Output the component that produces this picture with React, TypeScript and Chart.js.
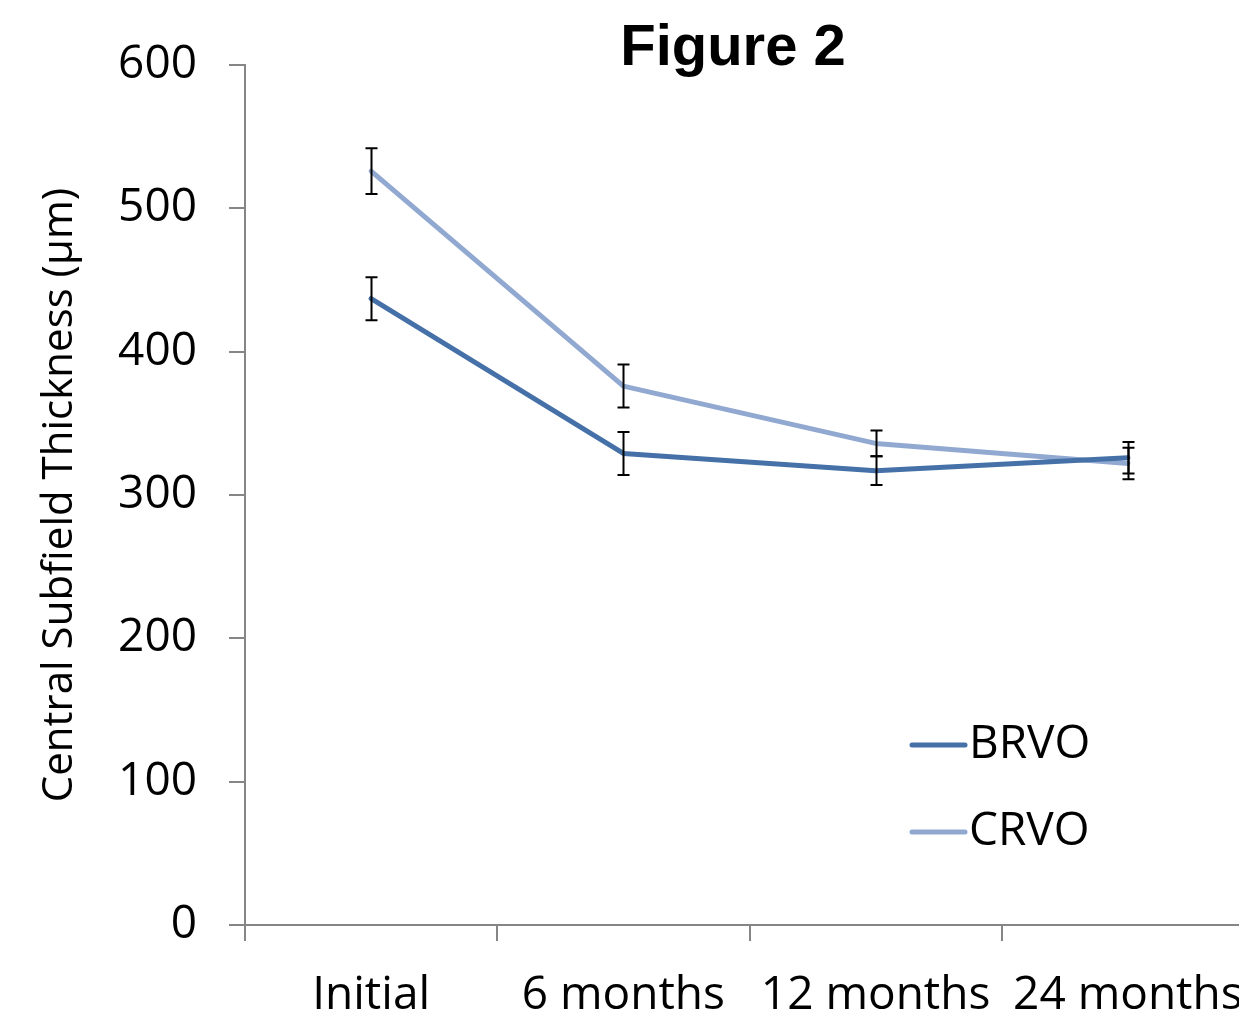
import React, { useEffect, useRef } from 'react';
import { Chart, registerables } from 'chart.js';

Chart.register(...registerables);

const chartTitle = 'Figure 2';
const categories = ['Initial', '6 months', '12 months', '24 months'];
const seriesNames = ['BRVO', 'CRVO'];
const brvoValues = [437, 329, 317, 326];
const brvoErrors = [15, 15, 10, 11];
const crvoValues = [526, 376, 336, 322];
const crvoErrors = [16, 15, 9, 11];
const yTicks = [0, 100, 200, 300, 400, 500, 600];
const seriesColors = ['#4571A8', '#91A9D0'];
const errorSets = [brvoErrors, crvoErrors];

const TICK_FONT = { family: "'Open Sans', sans-serif", size: 46 };
const AXIS_COLOR = '#868686';

const errorBarPlugin = {
  id: 'errorBars',
  afterDatasetsDraw(chart: any) {
    const { ctx, scales } = chart;
    const x = scales.x;
    const y = scales.y;
    ctx.save();
    ctx.strokeStyle = '#000000';
    ctx.lineWidth = 2;
    chart.data.datasets.forEach((ds: any, di: number) => {
      const errs = errorSets[di];
      ds.data.forEach((v: number, i: number) => {
        const px = Math.round(x.getPixelForValue(i)) + 0.5;
        const top = y.getPixelForValue(v + errs[i]);
        const bot = y.getPixelForValue(v - errs[i]);
        ctx.beginPath();
        ctx.moveTo(px, top);
        ctx.lineTo(px, bot);
        ctx.moveTo(px - 6, top);
        ctx.lineTo(px + 6, top);
        ctx.moveTo(px - 6, bot);
        ctx.lineTo(px + 6, bot);
        ctx.stroke();
      });
    });
    ctx.restore();
  },
};

const legendPlugin = {
  id: 'insideLegend',
  afterDraw(chart: any) {
    const { ctx } = chart;
    ctx.save();
    const x0 = 912;
    const x1 = 965;
    const ys = [745, 832];
    chart.data.datasets.forEach((ds: any, i: number) => {
      const yy = ys[i];
      ctx.strokeStyle = ds.borderColor;
      ctx.lineWidth = 5;
      ctx.lineCap = 'round';
      ctx.beginPath();
      ctx.moveTo(x0, yy);
      ctx.lineTo(x1, yy);
      ctx.stroke();
      ctx.fillStyle = '#000000';
      ctx.font = `${TICK_FONT.size}px ${TICK_FONT.family}`;
      ctx.textBaseline = 'middle';
      ctx.textAlign = 'left';
      ctx.fillText(ds.label, x1 + 4, yy);
    });
    ctx.restore();
  },
};

const titlePlugin = {
  id: 'figureTitle',
  afterDraw(chart: any) {
    const { ctx } = chart;
    ctx.save();
    ctx.fillStyle = '#000000';
    ctx.font = "bold 58px 'Liberation Sans', Arial, sans-serif";
    ctx.textAlign = 'center';
    ctx.textBaseline = 'alphabetic';
    ctx.fillText(chartTitle, 733, 65);
    ctx.restore();
  },
};

export default function App() {
  const ref = useRef<HTMLCanvasElement | null>(null);

  useEffect(() => {
    if (!ref.current) return;
    const chart = new Chart(ref.current, {
      type: 'line',
      data: {
        labels: categories,
        datasets: [
          {
            label: seriesNames[0],
            data: brvoValues,
            borderColor: seriesColors[0],
            backgroundColor: seriesColors[0],
            borderWidth: 5,
            pointRadius: 0,
            tension: 0,
            borderCapStyle: 'round',
            borderJoinStyle: 'round',
          },
          {
            label: seriesNames[1],
            data: crvoValues,
            borderColor: seriesColors[1],
            backgroundColor: seriesColors[1],
            borderWidth: 5,
            pointRadius: 0,
            tension: 0,
            borderCapStyle: 'round',
            borderJoinStyle: 'round',
          },
        ],
      },
      options: {
        responsive: false,
        animation: false,
        layout: { padding: { left: 0, right: 220, top: 65, bottom: 0 } },
        plugins: {
          legend: { display: false },
          tooltip: { enabled: false },
          title: { display: false },
        },
        scales: {
          x: {
            type: 'category',
            offset: true,
            afterFit: (s: any) => {
              s.height = 92;
            },
            grid: {
              offset: true,
              drawOnChartArea: false,
              drawTicks: true,
              tickLength: 16,
              color: AXIS_COLOR,
              lineWidth: 2,
            },
            border: { display: true, color: AXIS_COLOR, width: 2 },
            ticks: {
              color: '#000000',
              font: TICK_FONT,
              padding: 27,
              maxRotation: 0,
              autoSkip: false,
            },
          },
          y: {
            min: 0,
            max: 600,
            afterFit: (s: any) => {
              s.width = 245;
            },
            afterBuildTicks: (s: any) => {
              s.ticks = yTicks.map((v) => ({ value: v }));
            },
            grid: {
              drawOnChartArea: false,
              drawTicks: true,
              tickLength: 16,
              color: AXIS_COLOR,
              lineWidth: 2,
            },
            border: { display: true, color: AXIS_COLOR, width: 2 },
            ticks: {
              color: '#000000',
              font: TICK_FONT,
              padding: 32,
            },
            title: {
              display: true,
              text: 'Central Subfield Thickness (µm)',
              color: '#000000',
              font: { family: "'Open Sans', sans-serif", size: 42 },
              padding: { top: 35, bottom: 0 },
            },
          },
        },
      },
      plugins: [errorBarPlugin, legendPlugin, titlePlugin],
    } as any);
    return () => chart.destroy();
  }, []);

  return (
    <div
      style={{
        position: 'fixed',
        left: 0,
        top: 0,
        width: 1239,
        height: 1017,
        overflow: 'hidden',
        background: '#ffffff',
      }}
    >
      <canvas ref={ref} width={1474} height={1017} style={{ display: 'block' }} />
    </div>
  );
}
